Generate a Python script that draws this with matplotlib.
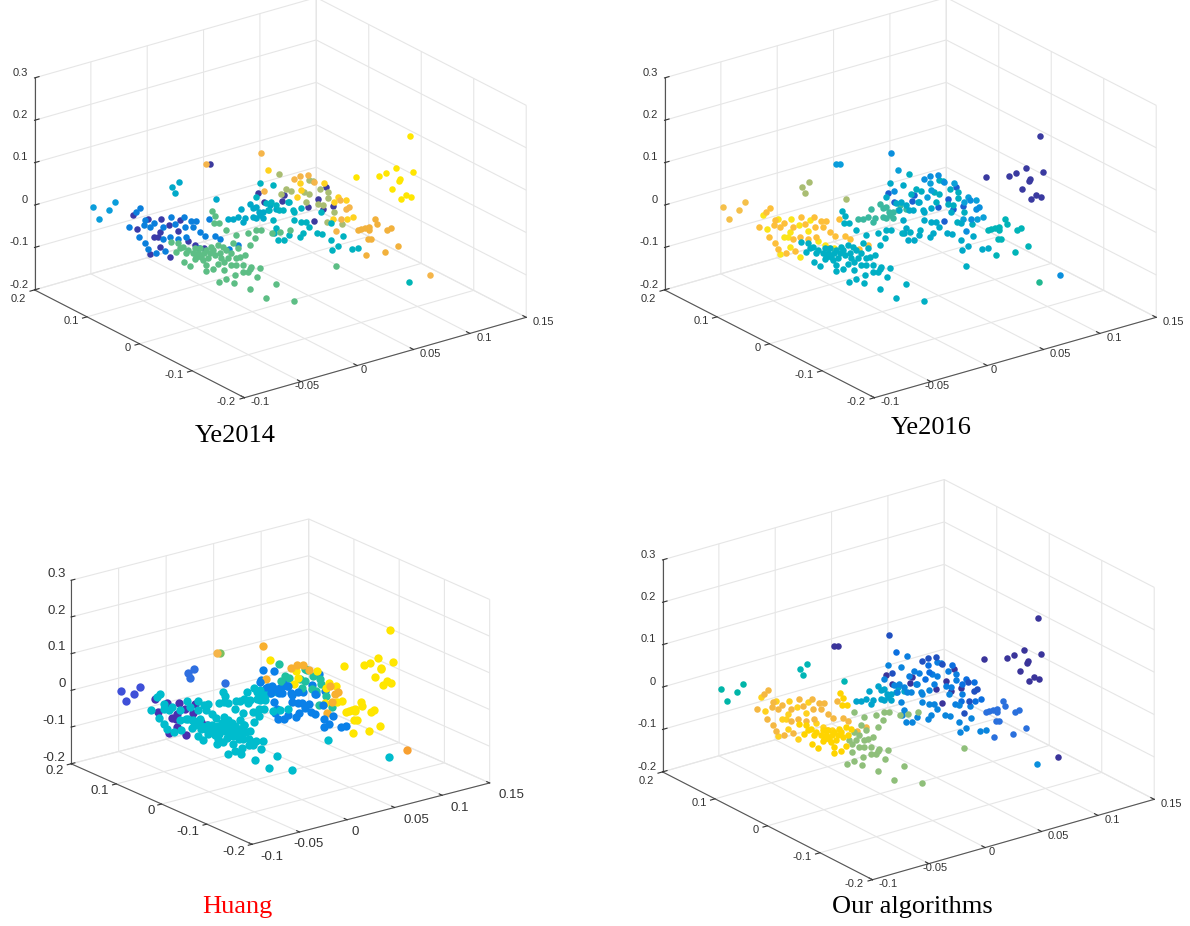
import numpy as np
import matplotlib
matplotlib.use("Agg")
import matplotlib.pyplot as plt
from mpl_toolkits.mplot3d import Axes3D

# ── data (same points in all four, only labels differ) ──
tip_x = [-.0744, -.0657, -.0619, -.071]
tip_y = [.143, .1326, .128, .139]
tip_z = [.013, .0053, .0242, -.016]

stray_x = [-.0294, -.0258, -.0281, -.0047]
stray_y = [.0892, .0849, .0876, .0597]
stray_z = [.0598, .0724, .0463, .0321]

pair1_x, pair1_y, pair1_z = [-.01], [.066], [.1143]
pair2_x, pair2_y, pair2_z = [-.0079], [.0635], [.1143]

blue_x = [-.0312, -.0331, -.0284, -.0232, -.0132, -.0059, -.0018, .0011, -.0373, -.0289, -.0255, -.0179, -.0113,
          -.0056, -.0008, -.0318, .0034, .0059, -.0284, -.0265, -.0221, -.017, -.0179, -.0141, -.0046, -.0094,
          .0026, .0083, .0116, .0144, .0195, .0247]
blue_y = [.1474, .1497, .144, .1379, .1259, .1172, .1123, .1088, .1547, .1447, .1406, .1316, .1236,
          .1168, .1111, .1481, .1061, .1032, .144, .1418, .1365, .1304, .1316, .127, .1157, .1213,
          .107, .1002, .0964, .093, .0868, .0807]
blue_z = [-.0257, -.0352, -.055, -.0613, -.0471, -.0471, -.0573, -.0557, -.0708, -.0668, -.0708, -.0708, -.0629,
          -.0708, -.0708, -.0929, -.0826, -.0921, -.1079, -.1221, -.1316, -.1261, -.0984, -.0945, -.0945, -.0984,
          -.1197, -.051, -.0905, -.0984, -.1221, -.1126]

dark_x = [-.035, -.0265, -.0189, -.0145, -.008, -.0327, -.0232, -.0208, -.0198, -.0094, -.0037, .0001, .0053,
          -.0251, -.0141, -.0198]
dark_y = [.152, .1418, .1327, .1275, .1197, .1493, .1379, .135, .1338, .1213, .1145, .11, .1039,
          .1402, .127, .1338]
dark_z = [-.0415, -.051, -.0526, -.0668, -.055, -.0755, -.0937, -.0945, -.0826, -.0787, -.1024, -.1126, -.1205,
          -.1347, -.1403, -.1181]

greenL_x = [-.0234, -.022, -.0224, -.0198, -.0468, -.043, -.0401, -.0373, -.0439, -.0344, -.0306, -.0268, -.024,
            -.0202, -.0397, -.0363, -.0335, -.0297, -.0259, -.022, -.0192, -.0268, -.023, -.0272, -.0202, -.0316,
            -.0287, -.042, -.0382, -.0335, -.0278, -.0249, -.0306, -.023, -.0325, -.0173]
greenL_y = [.0259, .0244, .0248, .0216, .0539, .0493, .0459, .0425, .0505, .0391, .0346, .03, .0266,
            .0221, .0455, .0414, .038, .0334, .0289, .0244, .021, .03, .0255, .0305, .0221, .0357,
            .0323, .0482, .0437, .038, .0312, .0278, .0346, .0255, .0369, .0187]
greenL_z = [.0389, .0278, .0112, .0112, -.0338, -.0378, -.0457, -.0536, -.0575, -.0615, -.0496, -.0536, -.0457,
            -.0417, -.0812, -.0915, -.0749, -.0693, -.0733, -.0654, -.0615, -.0891, -.097, -.1025, -.0852, -.0615,
            -.0773, -.0496, -.0615, -.0496, -.0615, -.0615, -.0654, -.0536, -.0693, -.0457]

greenR_x = [-.0154, -.0097, -.003, .0008, .0013, .0046, -.0154, -.0116, -.0021, -.0088, -.005, -.0164, -.0145,
            -.0097, -.0059, -.0012, .0036, -.0164, -.0154, -.0107, -.003, .0021, -.0196, -.011, -.0017, .0074,
            .0131, -.0059, .0106, .015, .0207, .0471, .023, -.0126, -.0078, -.0183, -.0126, -.0021, -.0097]
greenR_y = [.0164, .0096, .0017, -.0029, -.0036, -.0074, .0164, .0119, .0005, .0085, .0039, .0176, .0153,
            .0096, .0051, -.0006, -.0063, .0176, .0164, .0107, .0017, -.0045, .0214, .0112, .0001, -.0108,
            -.0176, .0051, -.0147, -.021, -.0267, -.0583, -.0294, .013, .0073, .0198, .013, .0005, .0096]
greenR_z = [-.0062, -.018, -.0141, -.0259, -.0062, -.0062, -.0536, -.0378, -.0417, -.0496, -.0654, -.0812, -.0733,
            -.0733, -.0891, -.0931, -.0954, -.101, -.1207, -.1128, -.1049, -.1167, -.1294, -.1302, -.1452, -.1665,
            -.1341, -.1049, -.0125, -.0101, -.0062, -.0907, -.1736, -.0615, -.0693, -.0733, -.0891, -.097, -.0891]

tealL_x = [.0024, .0052, .0081, .0109, .0147, .0185, .0223, .0261, .0299, .01, .0122, .0166, .0204, .0252,
           .0166, .0204, .0185, .0223]
tealL_y = [.0513, .0479, .0445, .0411, .0365, .032, .0274, .0229, .0184, .0422, .0395, .0343, .0297, .024,
           .0344, .0299, .032, .0276]
tealL_z = [-.0161, -.0161, -.0106, -.0224, .0187, .0132, .0013, .0171, .0076, .0076, -.0145, -.0106, -.0066, .0053,
           .0092, .0013, -.0145, -.0145]

tealR_x = [.0242, .027, .0299, .0337, .0365, .0394, .028, .0299, .0289, .0308, .0346, .0375, .0432, .0451, .0403,
           .0441, .047, .0487, .053, .0559, .0614, .065, .0679, .062, .073, .0764, .0555, .0612, .0207, .028, .0185,
           .0375, .0403, .0441, .0261, .0318]
tealR_y = [.0253, .0219, .0185, .014, .0106, .0072, .0208, .0185, .0197, .0174, .0129, .0095, .0026, .0004, .006,
           .0015, -.0019, -.004, -.0092, -.0126, -.0192, -.0235, -.0269, -.0198, -.033, -.0371, -.0121, -.0189, .0294,
           .0208, .032, .0095, .006, .0015, .0231, .0163]
tealR_z = [.0211, .025, .0171, .0053, .025, .0053, -.0185, -.0382, -.05, -.0643, -.0666, -.054, -.0595, -.0485,
           -.0185, -.0224, -.0224, -.0342, -.0477, -.0516, -.0658, -.0785, -.0564, -.088, -.0864, -.084, .0013, -.0264,
           .0684, .0645, .0368, .025, .0013, .0092, .0053, .0053]

topY_x = [.06, .0609, .0584, .0742, .0818, .0866, .0799, .079, .0871, .0905, .0423]
topY_y = [.0386, .0375, .0405, .0216, .0125, .0069, .0148, .0159, .0062, .0021, .0598]
topY_z = [.0335, .0162, .0003, .0335, .0003, -.006, -.0115, -.0526, -.051, -.0471, .0636]

topO_x = [.0567, .0605, .0647, .04, .0685, .0828, .0862, .0881, .0837, .0809, .0379]
topO_y = [.0425, .038, .033, .0625, .0284, .0114, .0073, .005, .0103, .0137, .065]
topO_z = [.0422, .0501, .0517, .0138, .0359, -.0076, -.0289, -.0233, -.051, -.0802, .103]

topG_x = [.0485, .0523, .0495, .0552, .0628, .0656, .0714, .0761, .0765, .0656, .0675, .0704, .0799, .0843, .0755,
          .0733, .0638]
topG_y = [.0523, .0477, .0511, .0443, .0352, .0318, .025, .0193, .0189, .0318, .0296, .0262, .0148, .0096, .02,
          .0228, .0341]
topG_z = [.0541, .0201, .0082, .0146, .0122, .0082, .0201, .0122, -.002, .0398, .0375, -.0155, -.0352, -.0629, -.0589,
          -.0194, -.0115]

topD_x = [.0751, .0704, .0647, .0793, .0685, .0736, .0514, .0501, .04, .0362]
topD_y = [.0205, .0262, .033, .0155, .0284, .0223, .0489, .0504, .0625, .067]
topD_z = [.0248, -.0036, -.0233, -.021, -.055, -.0273, .0043, -.0099, -.0115, .0106]

low_x = [.0932, .0951, .0976, .0995, .0995, .0989, .1008, .1033, .104, .1099, .1124, .1162, .0981, .1086]
low_y = [-.0011, -.0034, -.0063, -.0086, -.0086, -.0079, -.0102, -.0131, -.014, -.0211, -.024, -.0286, -.007, -.0195]
low_z = [-.0771, -.0747, -.0731, -.0708, -.0763, -.0984, -.0984, -.051, -.0629, -.0771, -.0731, -.115, -.1355, -.13]

right_x = [.123, .1151, .1247, .0919, .1052, .1166, .117, .1126, .1181, .1209, .1236, .1092]
right_y = [-.0367, -.0272, -.0388, .0005, -.0154, -.029, -.0295, -.0242, -.0308, -.0342, -.0374, -.0202]
right_z = [.1441, .0699, .0588, .0477, .0509, .0383, .0422, .0185, -.0044, .0051, .0003, .0564]

far1_x, far1_y, far1_z = [.1344], [-.0503], [-.1829]
far2_x, far2_y, far2_z = [.1225], [-.036], [-.1995]

groups = {
    "tip": (tip_x, tip_y, tip_z), "stray": (stray_x, stray_y, stray_z),
    "pair1": (pair1_x, pair1_y, pair1_z), "pair2": (pair2_x, pair2_y, pair2_z),
    "blue": (blue_x, blue_y, blue_z), "dark": (dark_x, dark_y, dark_z),
    "greenL": (greenL_x, greenL_y, greenL_z), "greenR": (greenR_x, greenR_y, greenR_z),
    "tealL": (tealL_x, tealL_y, tealL_z), "tealR": (tealR_x, tealR_y, tealR_z),
    "topY": (topY_x, topY_y, topY_z), "topO": (topO_x, topO_y, topO_z),
    "topG": (topG_x, topG_y, topG_z), "topD": (topD_x, topD_y, topD_z),
    "low": (low_x, low_y, low_z), "right": (right_x, right_y, right_z),
    "far1": (far1_x, far1_y, far1_z), "far2": (far2_x, far2_y, far2_z),
}

# colour of each group, per panel
colors_ye2014 = dict(tip="#0a9ddb", stray="#00a9c9", pair1="#f5b54a", pair2="#3d3a9e", blue="#0a7fdc", dark="#3a3aa8",
                     greenL="#5dbe85", greenR="#5dbe85", tealL="#00a8c8", tealR="#00b2c0", topY="#ffd21f",
                     topO="#f5b54a", topG="#a9bd72", topD="#3d3a9e", low="#f2b13c", right="#ffe600",
                     far1="#f5b54a", far2="#00b5b5")
colors_ye2016 = dict(tip="#f5c04a", stray="#a9bd72", pair1="#0a9ddb", pair2="#0a9ddb", blue="#fdbf3a", dark="#fbe51a",
                     greenL="#00afc4", greenR="#00afc4", tealL="#3ab8a0", tealR="#00a9c8", topY="#0aa0d8",
                     topO="#0a8fdd", topG="#00aec0", topD="#1a5fd0", low="#00b4b8", right="#3a3aa0",
                     far1="#0a8fdd", far2="#20b890")
colors_huang = dict(tip="#3f50d8", stray="#2f6fe0", pair1="#f5b54a", pair2="#7cc060", blue="#00bccd", dark="#4a2fb0",
                    greenL="#00bccd", greenR="#00bccd", tealL="#00bccd", tealR="#0a80e8", topY="#ffe600",
                    topO="#f8b030", topG="#20c0a0", topD="#0a80e8", low="#ffe600", right="#ffe600",
                    far1="#f8a030", far2="#00bccd")
colors_ours = dict(tip="#00b5a8", stray="#00b5b5", pair1="#3a349a", pair2="#3a349a", blue="#f5b842", dark="#ffd21f",
                   greenL="#ffd400", greenR="#8fbf7a", tealL="#00a4cc", tealR="#0a85dd", topY="#0a6fe0",
                   topO="#2050c0", topG="#0a7fe0", topD="#3a349a", low="#2a70dd", right="#3a349a",
                   far1="#3a349a", far2="#0a8fdd")

x_ticks = [-0.1, -0.05, 0, 0.05, 0.1, 0.15]
y_ticks = [-0.2, -0.1, 0, 0.1, 0.2]
z_ticks = [-0.2, -0.1, 0, 0.1, 0.2, 0.3]
x_labels = ["-0.1", "-0.05", "0", "0.05", "0.1", "0.15"]
y_labels = ["-0.2", "-0.1", "0", "0.1", "0.2"]
z_labels = ["-0.2", "-0.1", "0", "0.1", "0.2", "0.3"]
x_label_ha = ["left", "center", "center", "left", "left", "left"]

# name, colours, centre px (x, y), zoom, elev, azim, marker size, tick font, x pad, label va, title pos, title colour
panels = [
    ("Ye2014", colors_ye2014, (272, 206), 1.0, 22.5, -126.7, 22, 8, -1, "bottom", (235, 436), "black"),
    ("Ye2016", colors_ye2016, (902, 206), 1.0, 22.5, -126.7, 22, 8, -1, "bottom", (931, 428), "black"),
    ("Huang", colors_huang, (272, 690), 0.85, 19.8, -127.3, 36, 9.5, 3, "center", (237, 907), "red"),
    ("Our algorithms", colors_ours, (900, 688), 1.0, 22.5, -126.7, 22, 8, -1, "bottom", (912, 907), "black"),
]

W, H = 1190, 926
SIDE = 620
fig = plt.figure(figsize=(W / 100, H / 100), dpi=100)
plt.rcParams["font.family"] = ["Liberation Sans", "DejaVu Sans"]

for name, colors, (cx, cy), zoom, elev, azim, size, tick_fs, x_pad, lab_va, (tx, ty), tcol in panels:
    ax = fig.add_axes([(cx - SIDE / 2) / W, 1 - (cy + SIDE / 2) / H, SIDE / W, SIDE / H], projection="3d")
    ax.patch.set_alpha(0)
    ax.set_proj_type("ortho")
    ax.view_init(elev=elev, azim=azim)
    ax.set_box_aspect((1, 1, 0.653), zoom=0.857 * zoom)

    for g, (xs, ys, zs) in groups.items():
        ax.scatter(xs, ys, zs, s=size, c=colors[g], linewidths=0, depthshade=False, alpha=1)

    ax.set_xlim(-0.1, 0.15)
    ax.set_ylim(-0.2, 0.2)
    ax.set_zlim(-0.2, 0.3)
    ax.set_xticks(x_ticks, x_labels, family="Liberation Sans")
    ax.set_yticks(y_ticks, y_labels, family="Liberation Sans")
    ax.set_zticks(z_ticks, z_labels, family="Liberation Sans")
    ax.tick_params(labelsize=tick_fs, colors="#333333")
    ax.tick_params(axis="x", pad=x_pad)
    ax.tick_params(axis="y", pad=-1)
    ax.tick_params(axis="z", pad=-5)
    for t, ha in zip(ax.get_xticklabels(), x_label_ha):
        t.set_ha(ha)
        t.set_va(lab_va)
    for t in ax.get_yticklabels():
        t.set_ha("right")
        t.set_va(lab_va)
    ax.get_yticklabels()[-1].set_va("center")  # keeps 0.2 clear of the z label above it
    for t in ax.get_zticklabels():
        t.set_ha("right")
        t.set_va("bottom")
    for axis in (ax.xaxis, ax.yaxis, ax.zaxis):
        axis.set_pane_color((1, 1, 1, 0))
        axis.pane.set_edgecolor("#dcdcdc")
        axis.line.set_color("#555555")
        axis.line.set_linewidth(0.8)
        axis._axinfo["grid"].update(color="#e6e6e6", linewidth=0.8)
        axis._axinfo["tick"].update(inward_factor=0.0, outward_factor=0.2, color="#555555")
    # y ticks point into the floor
    ax.yaxis._axinfo["tick"].update(inward_factor=0.2, outward_factor=0.0)

    fig.text(tx / W, 1 - ty / H, name, family="Liberation Serif", fontsize=19, color=tcol, ha="center", va="center")

fig.savefig("out.png", dpi=100)
plt.close(fig)
